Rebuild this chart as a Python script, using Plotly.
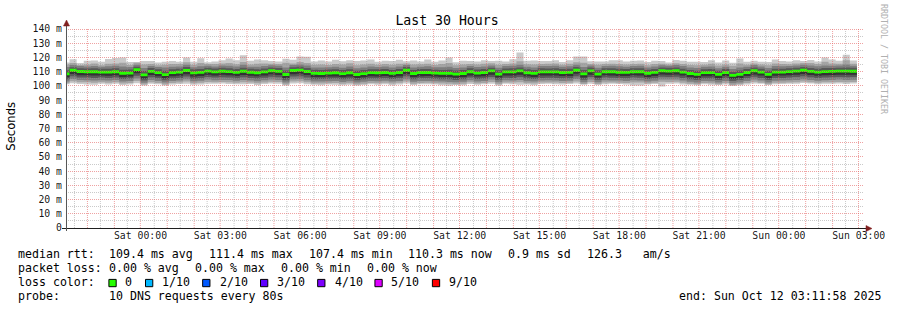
import math
import plotly.graph_objects as go
import pandas as pd

# ---------------- data (ms), one value per 16-minute column ----------------
median = [108.4, 111.0, 110.1, 109.9, 109.9, 109.7, 109.7, 109.9,
          108.9, 109.0, 111.4, 107.7, 110.2, 109.3, 107.9, 109.3,
          109.7, 110.8, 109.1, 109.5, 110.4, 109.8, 110.3, 110.0,
          109.5, 110.3, 109.6, 109.2, 109.8, 110.6, 110.2, 108.0,
          110.8, 111.1, 110.1, 108.8, 108.7, 109.0, 109.2, 108.6,
          109.2, 108.0, 108.6, 109.3, 109.2, 109.4, 108.8, 109.4,
          111.0, 108.7, 109.4, 109.4, 109.0, 108.8, 108.8, 108.2,
          108.7, 109.9, 109.0, 109.4, 110.5, 108.3, 109.8, 109.8,
          110.5, 109.2, 108.8, 109.8, 109.8, 109.8, 109.4, 109.5,
          111.0, 108.4, 110.5, 108.3, 109.9, 109.9, 109.6, 109.5,
          109.9, 109.9, 108.9, 109.5, 110.6, 110.4, 110.6, 109.7,
          108.7, 108.1, 109.3, 109.3, 108.1, 109.4, 107.4, 108.1,
          109.4, 110.6, 109.7, 108.1, 109.7, 109.7, 110.0, 110.4,
          111.0, 110.2, 109.7, 110.0, 110.2, 110.4, 110.4, 110.3]

ping10 = [116.5, 118.8, 116.0, 117.6, 117.8, 117.0, 118.9, 119.6,
          119.9, 116.7, 116.8, 117.5, 117.4, 116.5, 116.9, 117.5,
          117.0, 119.9, 116.9, 119.5, 116.6, 117.2, 118.0, 119.2,
          118.1, 121.5, 117.6, 118.6, 118.0, 117.4, 117.1, 119.0,
          118.3, 120.6, 120.4, 117.2, 117.9, 117.1, 118.4, 117.3,
          118.0, 117.4, 117.9, 118.6, 116.9, 117.6, 117.5, 118.4,
          117.3, 117.9, 117.2, 118.5, 117.0, 117.8, 120.0, 116.6,
          117.7, 117.4, 117.2, 118.1, 117.5, 117.7, 117.1, 118.7,
          123.5, 117.6, 117.9, 117.5, 117.5, 118.0, 116.8, 118.1,
          120.6, 120.6, 117.3, 117.2, 117.1, 118.0, 118.0, 117.2,
          117.6, 117.9, 116.8, 117.6, 117.4, 116.5, 118.2, 117.7,
          117.0, 116.9, 116.7, 118.0, 116.4, 117.8, 116.3, 119.2,
          116.9, 117.6, 117.0, 116.7, 118.6, 117.5, 117.2, 118.0,
          117.4, 118.2, 117.2, 120.0, 118.5, 117.6, 121.8, 117.8]

ping9 = [115.0, 116.1, 114.7, 115.1, 115.7, 114.5, 115.5, 115.8,
         116.3, 114.7, 116.2, 115.1, 115.4, 114.5, 114.9, 115.3,
         115.3, 116.6, 114.8, 116.0, 115.3, 115.4, 115.8, 116.1,
         115.2, 116.7, 115.1, 115.5, 115.7, 115.6, 115.4, 116.2,
         115.7, 116.7, 116.1, 114.8, 115.1, 114.7, 115.4, 115.0,
         115.9, 114.5, 115.1, 115.6, 114.9, 115.4, 114.8, 115.5,
         115.8, 115.1, 115.2, 115.5, 114.7, 115.3, 116.0, 114.5,
         115.1, 115.3, 115.0, 115.5, 115.9, 114.9, 115.3, 115.8,
         117.3, 115.2, 115.0, 115.4, 115.6, 115.8, 114.9, 115.5,
         116.6, 116.3, 115.4, 114.8, 115.3, 115.6, 115.4, 115.1,
         115.4, 115.5, 114.5, 115.3, 115.6, 115.1, 115.9, 115.4,
         114.7, 114.5, 114.8, 115.5, 114.4, 115.1, 114.2, 115.7,
         114.9, 115.7, 115.0, 114.5, 115.8, 115.3, 115.2, 115.7,
         116.0, 116.1, 115.3, 116.9, 115.8, 115.5, 118.0, 115.5]

ping8 = [113.3, 114.6, 113.9, 113.6, 114.0, 113.4, 113.8, 114.1,
         113.7, 113.3, 114.8, 112.5, 114.0, 113.2, 112.9, 113.5,
         113.6, 114.9, 113.1, 113.8, 114.2, 113.7, 114.3, 114.2,
         113.6, 114.8, 113.5, 113.4, 114.0, 114.5, 114.1, 112.9,
         114.6, 115.0, 114.4, 112.9, 112.9, 113.1, 113.5, 112.8,
         113.7, 112.4, 113.0, 113.6, 113.3, 113.7, 112.9, 113.6,
         114.6, 113.0, 113.5, 113.8, 113.1, 113.1, 113.4, 112.5,
         113.0, 114.0, 113.2, 113.7, 114.4, 112.8, 113.9, 114.1,
         114.8, 113.5, 112.9, 114.0, 114.0, 114.2, 113.4, 113.8,
         114.9, 113.3, 114.4, 112.7, 114.0, 114.1, 113.8, 113.5,
         114.0, 114.1, 112.9, 113.7, 114.5, 114.2, 114.6, 113.9,
         112.9, 112.5, 113.4, 113.6, 112.3, 113.4, 111.9, 112.9,
         113.5, 114.6, 113.7, 112.5, 113.9, 113.8, 113.9, 114.4,
         114.9, 114.3, 113.8, 114.4, 114.2, 114.3, 115.0, 114.2]

ping7 = [111.0, 113.1, 112.4, 112.2, 112.3, 112.0, 112.1, 112.3,
         111.4, 111.5, 113.5, 110.4, 112.5, 111.7, 110.7, 111.7,
         112.1, 113.2, 111.6, 111.9, 112.7, 112.2, 112.7, 112.4,
         111.9, 112.7, 112.0, 111.7, 112.2, 112.9, 112.6, 110.8,
         113.1, 113.4, 112.5, 111.3, 111.1, 111.5, 111.6, 111.1,
         111.7, 110.6, 111.1, 111.7, 111.6, 111.8, 111.2, 111.8,
         113.3, 111.2, 111.8, 111.9, 111.4, 111.2, 111.4, 110.8,
         111.1, 112.3, 111.5, 111.8, 112.8, 110.9, 112.2, 112.3,
         112.9, 111.7, 111.2, 112.3, 112.2, 112.3, 111.8, 112.0,
         113.3, 111.2, 112.9, 110.9, 112.3, 112.4, 112.0, 111.9,
         112.3, 112.4, 111.3, 111.9, 112.9, 112.7, 113.0, 112.1,
         111.2, 110.7, 111.7, 111.8, 110.6, 111.8, 110.0, 110.8,
         111.8, 112.9, 112.1, 110.7, 112.1, 112.1, 112.4, 112.8,
         113.3, 112.6, 112.1, 112.5, 112.6, 112.8, 113.0, 112.7]

ping6 = [109.0, 111.6, 110.7, 110.5, 110.5, 110.3, 110.4, 110.5,
         109.5, 109.6, 112.0, 108.3, 110.8, 109.9, 108.5, 109.9,
         110.3, 111.4, 109.7, 110.1, 111.0, 110.4, 110.9, 110.6,
         110.1, 110.9, 110.2, 109.8, 110.4, 111.2, 110.8, 108.6,
         111.4, 111.7, 110.7, 109.4, 109.3, 109.6, 109.8, 109.2,
         109.8, 108.6, 109.2, 109.9, 109.8, 110.0, 109.4, 110.0,
         111.6, 109.3, 110.0, 110.0, 109.6, 109.4, 109.4, 108.8,
         109.3, 110.5, 109.6, 110.0, 111.1, 108.9, 110.4, 110.4,
         111.1, 109.8, 109.4, 110.4, 110.4, 110.4, 110.0, 110.1,
         111.6, 109.0, 111.1, 108.9, 110.5, 110.5, 110.2, 110.1,
         110.5, 110.5, 109.5, 110.1, 111.2, 111.0, 111.2, 110.3,
         109.3, 108.7, 109.9, 109.9, 108.7, 110.0, 108.0, 108.7,
         110.0, 111.2, 110.3, 108.7, 110.3, 110.3, 110.6, 111.0,
         111.6, 110.8, 110.3, 110.6, 110.8, 111.0, 111.0, 110.9]

ping5 = [106.0, 108.4, 107.5, 107.4, 107.3, 107.2, 107.1, 107.4,
         106.3, 106.5, 108.9, 105.2, 107.7, 106.8, 105.4, 106.8,
         107.1, 108.2, 106.6, 107.0, 107.9, 107.3, 107.8, 107.5,
         107.0, 107.7, 107.1, 106.7, 107.3, 108.1, 107.6, 105.5,
         108.2, 108.5, 107.6, 106.2, 106.2, 106.5, 106.6, 106.1,
         106.6, 105.5, 106.1, 106.8, 106.6, 106.9, 106.3, 106.8,
         108.4, 106.2, 106.8, 106.9, 106.5, 106.3, 106.2, 105.7,
         106.2, 107.3, 106.5, 106.8, 107.9, 105.8, 107.3, 107.2,
         107.9, 106.7, 106.3, 107.2, 107.3, 107.2, 106.9, 106.9,
         108.5, 105.9, 107.9, 105.8, 107.4, 107.3, 107.0, 107.0,
         107.4, 107.3, 106.3, 107.0, 108.0, 107.9, 108.0, 107.2,
         106.2, 105.6, 106.8, 106.7, 105.6, 106.9, 105.0, 105.6,
         106.9, 108.0, 107.2, 105.6, 107.1, 107.2, 107.4, 107.9,
         108.4, 107.7, 107.1, 107.5, 107.6, 107.9, 107.8, 107.8]

ping4 = [104.6, 106.8, 105.9, 105.8, 105.6, 105.8, 105.5, 105.9,
         104.8, 105.1, 107.1, 103.8, 106.1, 105.3, 103.9, 105.2,
         105.6, 106.6, 105.0, 105.4, 106.3, 105.8, 106.1, 105.9,
         105.4, 106.0, 105.6, 105.1, 105.7, 106.4, 106.0, 104.0,
         106.6, 106.8, 105.9, 104.7, 104.8, 105.0, 105.1, 104.6,
         105.0, 104.0, 104.6, 105.2, 105.1, 105.4, 104.8, 105.3,
         106.7, 104.7, 105.3, 105.3, 105.0, 104.7, 104.6, 104.2,
         104.7, 105.8, 104.9, 105.2, 106.3, 104.3, 105.7, 105.6,
         106.2, 105.1, 104.8, 105.6, 105.7, 105.6, 105.3, 105.4,
         106.8, 104.3, 106.3, 104.3, 105.8, 105.7, 105.5, 105.4,
         105.8, 105.7, 104.8, 105.4, 106.4, 106.3, 106.4, 105.6,
         104.7, 104.1, 105.2, 105.1, 104.1, 105.3, 103.5, 104.1,
         105.3, 106.4, 105.6, 104.1, 105.5, 105.6, 105.8, 106.2,
         106.7, 106.1, 105.5, 105.9, 106.0, 106.3, 106.1, 106.2]

ping3 = [103.1, 104.8, 104.1, 104.0, 103.7, 104.0, 103.7, 104.1,
         103.0, 103.4, 105.1, 102.2, 104.2, 103.5, 102.3, 103.4,
         103.8, 104.7, 103.2, 103.6, 104.4, 104.0, 104.2, 104.1,
         103.6, 104.1, 103.8, 103.3, 103.9, 104.5, 104.2, 102.3,
         104.7, 104.8, 104.0, 103.0, 103.1, 103.3, 103.4, 102.8,
         103.2, 102.3, 102.9, 103.4, 103.3, 103.6, 103.0, 103.5,
         104.7, 102.9, 103.5, 103.5, 103.2, 103.0, 102.8, 102.5,
         102.9, 104.0, 103.1, 103.4, 104.4, 102.5, 103.9, 103.8,
         104.2, 103.3, 103.0, 103.8, 103.9, 103.8, 103.5, 103.6,
         104.8, 102.6, 104.4, 102.6, 103.9, 103.8, 103.7, 103.5,
         103.9, 103.8, 103.0, 103.6, 104.5, 104.4, 104.5, 103.7,
         102.9, 102.4, 103.4, 103.3, 102.4, 103.5, 101.8, 102.4,
         103.5, 104.5, 103.7, 102.4, 103.6, 103.7, 103.9, 104.2,
         104.7, 104.2, 103.6, 104.0, 104.1, 104.4, 104.2, 104.3]

ping2 = [101.8, 103.2, 102.6, 102.5, 102.2, 102.5, 102.2, 102.6,
         101.6, 102.0, 103.4, 100.9, 102.6, 102.0, 101.0, 102.0,
         102.4, 103.1, 101.8, 102.1, 102.8, 102.5, 102.7, 102.6,
         102.1, 102.5, 102.3, 101.8, 102.4, 102.9, 102.7, 101.0,
         103.0, 103.2, 102.5, 101.6, 101.7, 101.9, 102.0, 101.4,
         101.8, 101.0, 101.5, 102.0, 101.9, 102.2, 101.6, 102.1,
         103.0, 101.5, 102.0, 102.1, 101.8, 101.6, 101.4, 101.2,
         101.5, 102.5, 101.7, 102.0, 102.8, 101.1, 102.4, 102.3,
         102.6, 101.9, 101.6, 102.3, 102.4, 102.3, 102.0, 102.2,
         103.1, 101.3, 102.8, 101.3, 102.4, 102.3, 102.2, 102.0,
         102.4, 102.3, 101.6, 102.1, 102.9, 102.8, 102.9, 102.2,
         101.5, 101.1, 102.0, 101.9, 101.1, 102.0, 100.5, 101.1,
         102.0, 102.9, 102.2, 101.1, 102.1, 102.2, 102.4, 102.6,
         103.1, 102.6, 102.1, 102.5, 102.6, 102.8, 102.6, 102.7]

ping1 = [101.2, 101.8, 101.3, 101.0, 100.7, 101.4, 101.0, 101.5,
         100.6, 101.0, 101.9, 100.2, 101.4, 101.1, 100.3, 100.9,
         101.3, 101.5, 100.8, 101.0, 101.5, 101.4, 101.6, 101.3,
         101.1, 101.2, 101.3, 100.6, 101.3, 101.6, 101.5, 100.2,
         101.6, 101.8, 101.2, 100.7, 100.4, 100.9, 100.8, 100.4,
         100.7, 100.3, 100.6, 101.1, 100.8, 101.2, 100.4, 101.0,
         101.6, 100.6, 101.1, 101.2, 100.9, 100.5, 100.0, 100.6,
         100.4, 101.3, 100.7, 101.2, 101.5, 100.3, 101.4, 101.1,
         100.8, 101.0, 100.5, 101.3, 101.5, 101.2, 101.0, 101.3,
         101.7, 100.7, 101.5, 100.6, 101.2, 101.4, 101.3, 101.0,
         100.2, 100.3, 100.9, 101.3, 99.6, 101.5, 101.7, 101.0,
         100.7, 100.5, 101.1, 100.8, 100.6, 101.0, 100.0, 100.4,
         101.0, 101.7, 101.4, 100.6, 101.2, 101.3, 101.5, 101.4,
         102.0, 101.6, 101.2, 101.5, 101.5, 101.7, 101.3, 101.6]

# tick labels
x_label_times = ["2025-10-11 00:00", "2025-10-11 03:00", "2025-10-11 06:00",
                 "2025-10-11 09:00", "2025-10-11 12:00", "2025-10-11 15:00",
                 "2025-10-11 18:00", "2025-10-11 21:00", "2025-10-12 00:00",
                 "2025-10-12 03:00"]
x_labels = ["Sat 00:00", "Sat 03:00", "Sat 06:00", "Sat 09:00", "Sat 12:00",
            "Sat 15:00", "Sat 18:00", "Sat 21:00", "Sun 00:00", "Sun 03:00"]
y_tick_vals = [0, 10, 20, 30, 40, 50, 60, 70, 80, 90, 100, 110, 120, 130, 140]
y_tick_text = ["0", "10 m", "20 m", "30 m", "40 m", "50 m", "60 m", "70 m",
               "80 m", "90 m", "100 m", "110 m", "120 m", "130 m", "140 m"]

title_text = "Last 30 Hours"
y_title = "Seconds"
watermark = "RRDTOOL / TOBI OETIKER"
loss_labels = ["0", "1/10", "2/10", "3/10", "4/10", "5/10", "9/10"]
loss_colors = ["#26ff00", "#00b8ff", "#0059ff", "#5e00ff", "#7e00ff", "#dd00ff", "#ff0000"]
row1 = ["median rtt:", "109.4 ms avg", "111.4 ms max", "107.4 ms min",
        "110.3 ms now", "0.9 ms sd", "126.3   am/s"]
row2 = ["packet loss:", "0.00 % avg", "0.00 % max", "0.00 % min", "0.00 % now"]
row3_head = "loss color:"
row4 = ["probe:", "10 DNS requests every 80s"]
end_text = "end: Sun Oct 12 03:11:58 2025"

# ---------------- geometry / time base ----------------
W, H = 897, 310
ML, MR, MT, MB = 66, 31, 29, 82
PW, PH = W - ML - MR, H - MT - MB
Y_MAX = 140

range_start = pd.Timestamp("2025-10-10 21:11:58")
range_end = pd.Timestamp("2025-10-12 03:11:58")
sat0 = pd.Timestamp("2025-10-11 00:00:00")
STEP_MIN = 16
FIRST_OFF = -176
FMT = "%Y-%m-%d %H:%M:%S"

n = len(median)
starts = [sat0 + pd.Timedelta(minutes=FIRST_OFF + STEP_MIN * k) for k in range(n)]
starts[0] = max(starts[0], range_start)
xs = starts + [sat0 + pd.Timedelta(minutes=FIRST_OFF + STEP_MIN * n)]
xs = [t.strftime(FMT) for t in xs]


def ext(a):
    return list(a) + [a[-1]]


fig = go.Figure()

pings = [ping1, ping2, ping3, ping4, ping5, ping6, ping7, ping8, ping9, ping10]
smoke_cols = ["#cacaca", "#a4a4a4", "#7e7e7e", "#585858", "#323232"]
for i in range(5):
    lo, hi = pings[i], pings[9 - i]
    fig.add_trace(go.Scatter(x=xs, y=ext(lo), mode="lines",
                             line=dict(width=0, shape="hv"),
                             hoverinfo="skip", showlegend=False))
    fig.add_trace(go.Scatter(x=xs, y=ext(hi), mode="lines",
                             line=dict(width=0, shape="hv"),
                             fill="tonexty", fillcolor=smoke_cols[i],
                             hoverinfo="skip", showlegend=False))

half = 1.0
fig.add_trace(go.Scatter(x=xs, y=ext([m - half for m in median]), mode="lines",
                         line=dict(width=0, shape="hv"), hoverinfo="skip",
                         showlegend=False))
fig.add_trace(go.Scatter(x=xs, y=ext([m + half for m in median]), mode="lines",
                         line=dict(width=0, shape="hv"), fill="tonexty",
                         fillcolor=loss_colors[0], hoverinfo="skip",
                         showlegend=False))

# grid positions
hour_ticks = pd.date_range("2025-10-10 22:00", "2025-10-12 03:00", freq="1h")
half_ticks = pd.date_range("2025-10-10 21:30", "2025-10-12 02:30", freq="1h")
lab_map = dict(zip(pd.to_datetime(x_label_times), x_labels))
x_tickvals = [t.strftime(FMT) for t in hour_ticks]
x_ticktext = [lab_map.get(t, "") for t in hour_ticks]
y_minor = [v + 5 for v in y_tick_vals[:-1]]

MAJOR = "rgba(228,100,100,0.6)"
MINOR = "rgba(150,150,150,0.5)"
DASH = "1px,1px"
MONO = "DejaVu Sans Mono"
TICK_COL = "rgba(0,0,0,0.92)"
xr = [range_start.strftime(FMT), range_end.strftime(FMT)]

fig.update_layout(
    width=W, height=H, autosize=False,
    margin=dict(l=ML, r=MR, t=MT, b=MB, pad=0),
    paper_bgcolor="white", plot_bgcolor="white",
    showlegend=False, hovermode=False,
    title=dict(text=title_text, x=447 / W, xanchor="center",
               y=1 - 20 / H, yanchor="middle", yref="container",
               font=dict(family=MONO, size=13.2, color="black")),
    xaxis=dict(type="date", range=xr,
               tickmode="array", tickvals=x_tickvals, ticktext=x_ticktext,
               showgrid=False, showline=False, ticks="", zeroline=False,
               tickfont=dict(family=MONO, size=9.8, color=TICK_COL),
               fixedrange=True),
    yaxis=dict(range=[0, Y_MAX], tickmode="array", tickvals=y_tick_vals,
               ticktext=y_tick_text, showgrid=False,
               showline=False, ticks="", zeroline=False,
               ticklabelstandoff=3,
               tickfont=dict(family=MONO, size=9.8, color=TICK_COL),
               fixedrange=True),
)


def px2paper_x(px):
    return (px - ML) / PW


def px2paper_y(py):
    return (MT + PH - py) / PH


total_s = (range_end - range_start).total_seconds()


def time_px(t):
    return ML + (pd.Timestamp(t) - range_start).total_seconds() / total_s * PW


def val_py(v):
    return MT + PH - v / Y_MAX * PH


def snap(p):
    return math.floor(p) + 0.5


shapes = []
# grid drawn on top of the smoke, as rrdtool does
for ticks_, col in ((half_ticks, MINOR), (hour_ticks, MAJOR)):
    for t in ticks_:
        xp = px2paper_x(snap(time_px(t)))
        shapes.append(dict(type="line", xref="paper", yref="paper", layer="above",
                           x0=xp, x1=xp, y0=0, y1=1,
                           line=dict(color=col, width=1, dash=DASH)))
for vals_, col in ((y_minor, MINOR), (y_tick_vals[1:], MAJOR)):
    for v in vals_:
        yp = px2paper_y(snap(val_py(v)))
        shapes.append(dict(type="line", xref="paper", yref="paper", layer="above",
                           x0=0, x1=1, y0=yp, y1=yp,
                           line=dict(color=col, width=1, dash=DASH)))

# axis lines with rrdtool-style overhang and arrows
shapes.append(dict(type="line", xref="paper", yref="paper",
                   x0=px2paper_x(62), x1=px2paper_x(869),
                   y0=px2paper_y(228.5), y1=px2paper_y(228.5),
                   line=dict(color="#1f1f1f", width=1.2)))
shapes.append(dict(type="line", xref="paper", yref="paper",
                   x0=px2paper_x(66.5), x1=px2paper_x(66.5),
                   y0=px2paper_y(231), y1=px2paper_y(25),
                   line=dict(color="#555555", width=1)))
ARROW = "#801f1f"
shapes.append(dict(type="path", xref="paper", yref="paper",
                   path="M {} {} L {} {} L {} {} Z".format(
                       px2paper_x(868), px2paper_y(225.5), px2paper_x(868),
                       px2paper_y(231.5), px2paper_x(874), px2paper_y(228.5)),
                   fillcolor=ARROW, line=dict(color=ARROW, width=0.5)))
shapes.append(dict(type="path", xref="paper", yref="paper",
                   path="M {} {} L {} {} L {} {} Z".format(
                       px2paper_x(63.5), px2paper_y(26), px2paper_x(69.5),
                       px2paper_y(26), px2paper_x(66.5), px2paper_y(20)),
                   fillcolor=ARROW, line=dict(color=ARROW, width=0.5)))

# loss colour boxes
box_x = [109, 145.7, 203, 261, 318.3, 375.7, 433.3]
lab_x = [123.3, 160, 218.3, 276, 333.3, 390, 447.7]
for bx, c in zip(box_x, loss_colors):
    shapes.append(dict(type="rect", xref="paper", yref="paper",
                       x0=px2paper_x(bx), x1=px2paper_x(bx + 7.3),
                       y0=px2paper_y(286.7), y1=px2paper_y(279.4),
                       fillcolor=c, line=dict(color="black", width=1)))
fig.update_layout(shapes=shapes)

ann = []


def txt(s, px, py, size=11.6, family=MONO, color="black", angle=0,
        xanchor="left", yanchor="middle"):
    ann.append(dict(text=s, x=px2paper_x(px), y=px2paper_y(py),
                    xref="paper", yref="paper", showarrow=False,
                    xanchor=xanchor, yanchor=yanchor, textangle=angle,
                    font=dict(family=family, size=size, color=color)))


txt(y_title, 11, 126.5, size=11.6, family="DejaVu Sans", angle=-90,
    xanchor="center")
txt(watermark, 886, 59, size=8.3, color="#b0b0b0", angle=90, xanchor="center")

row1_x = [16, 107.3, 207.3, 307.3, 407.3, 507.3, 586]
for s, x in zip(row1, row1_x):
    txt(s, x, 254.3)
row2_x = [16, 107.3, 193.3, 279.3, 365.7]
for s, x in zip(row2, row2_x):
    txt(s, x, 268.3)
txt(row3_head, 16, 282.3)
for s, x in zip(loss_labels, lab_x):
    txt(s, x, 282.3)
row4_x = [16, 107.3]
for s, x in zip(row4, row4_x):
    txt(s, x, 296.3)
txt(end_text, 678.3, 296.3)

fig.update_layout(annotations=ann)

fig.write_html("out.html")
